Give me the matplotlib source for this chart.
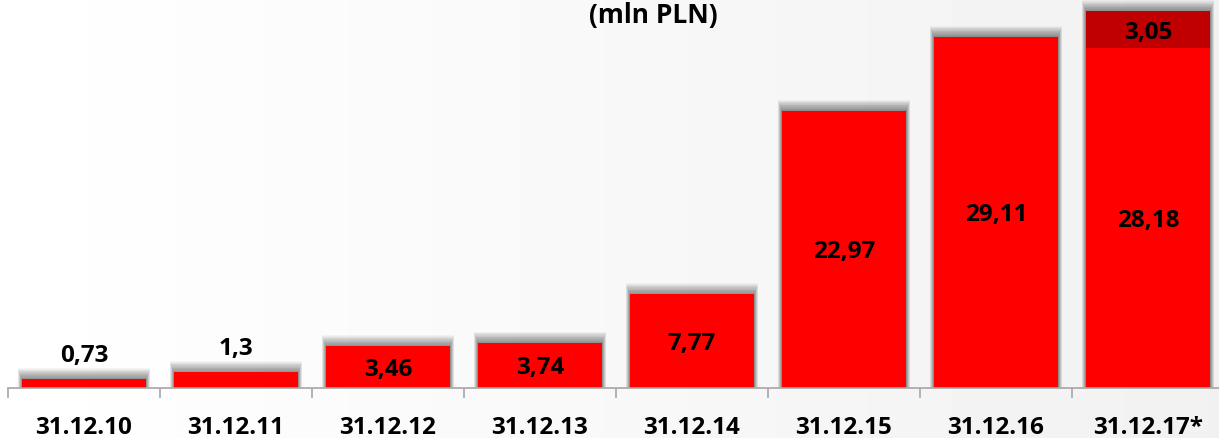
import numpy as np
import matplotlib.pyplot as plt

# ----------------- DATA -----------------
categories = ["31.12.10", "31.12.11", "31.12.12", "31.12.13",
              "31.12.14", "31.12.15", "31.12.16", "31.12.17*"]
base_values = [0.73, 1.3, 3.46, 3.74, 7.77, 22.97, 29.11, 28.18]
top_values = [0, 0, 0, 0, 0, 0, 0, 3.05]
base_labels = ["0,73", "1,3", "3,46", "3,74", "7,77", "22,97", "29,11", "28,18"]
top_labels = ["", "", "", "", "", "", "", "3,05"]

plt.rcParams['font.family'] = ['Open Sans', 'DejaVu Sans']

W, H = 1219, 438
fig = plt.figure(figsize=(W / 100, H / 100), dpi=100)

# background gradient (white -> light gray)
bg = fig.add_axes([0, 0, 1, 1], zorder=0)
grad = np.linspace(1.0, 0.945, 256).reshape(1, -1)
bg.imshow(grad, aspect='auto', cmap='gray', vmin=0, vmax=1, extent=[0, 1, 0, 1])
bg.axis('off')

# main axes: baseline at y=388 px, categories 152 px wide starting at x=8
left = 8 / W
bottom = (H - 388) / H
ax = fig.add_axes([left, bottom, 152 * 8 / W, 388 / H], zorder=1)
ax.patch.set_alpha(0)

x = np.arange(len(categories))
bw = 0.82
totals = [b + t for b, t in zip(base_values, top_values)]

# soft shadow above each bar
for k in range(14):
    ax.bar(x, [v + 0.065 * (k + 1) for v in totals], width=bw + 0.0035 * (k + 1),
           color='black', alpha=0.035, linewidth=0, zorder=1)

ax.bar(x, base_values, width=bw, color='#ff0000', linewidth=0, zorder=2)
ax.bar(x, top_values, bottom=base_values, width=bw, color='#c00000',
       linewidth=0, zorder=2)

fs = 17.5
for i, (b, t) in enumerate(zip(base_values, top_values)):
    if b < 2:
        ax.text(i, b + 0.9, base_labels[i], ha='center', va='bottom',
                fontsize=fs, fontweight='bold', zorder=3)
    else:
        ax.text(i, b / 2, base_labels[i], ha='center', va='center_baseline',
                fontsize=fs, fontweight='bold', zorder=3)
    if t > 0:
        ax.text(i, b + t / 2, top_labels[i], ha='center', va='center_baseline',
                fontsize=fs, fontweight='bold', zorder=3)

ax.set_xlim(-0.5, len(categories) - 0.5)
ax.set_ylim(0, 388 / 12.06)
for s in ['top', 'right', 'left']:
    ax.spines[s].set_visible(False)
ax.spines['bottom'].set_color('#a6a6a6')
ax.spines['bottom'].set_linewidth(1.2)
ax.set_yticks([])
ax.set_xticks(np.arange(len(categories) + 1) - 0.5, minor=False)
ax.set_xticklabels([])
ax.tick_params(axis='x', which='major', length=7, width=1.2, color='#a6a6a6')
ax.set_xticks(x, minor=True)
ax.set_xticklabels(categories, minor=True, fontsize=fs, fontweight='bold')
ax.tick_params(axis='x', which='minor', length=0, pad=20)

fig.text(653 / W, 1 - 23 / H, "(mln PLN)", ha='center', va='baseline',
         fontsize=19, fontweight='bold', color='black')

fig.savefig("out.png", dpi=100)
